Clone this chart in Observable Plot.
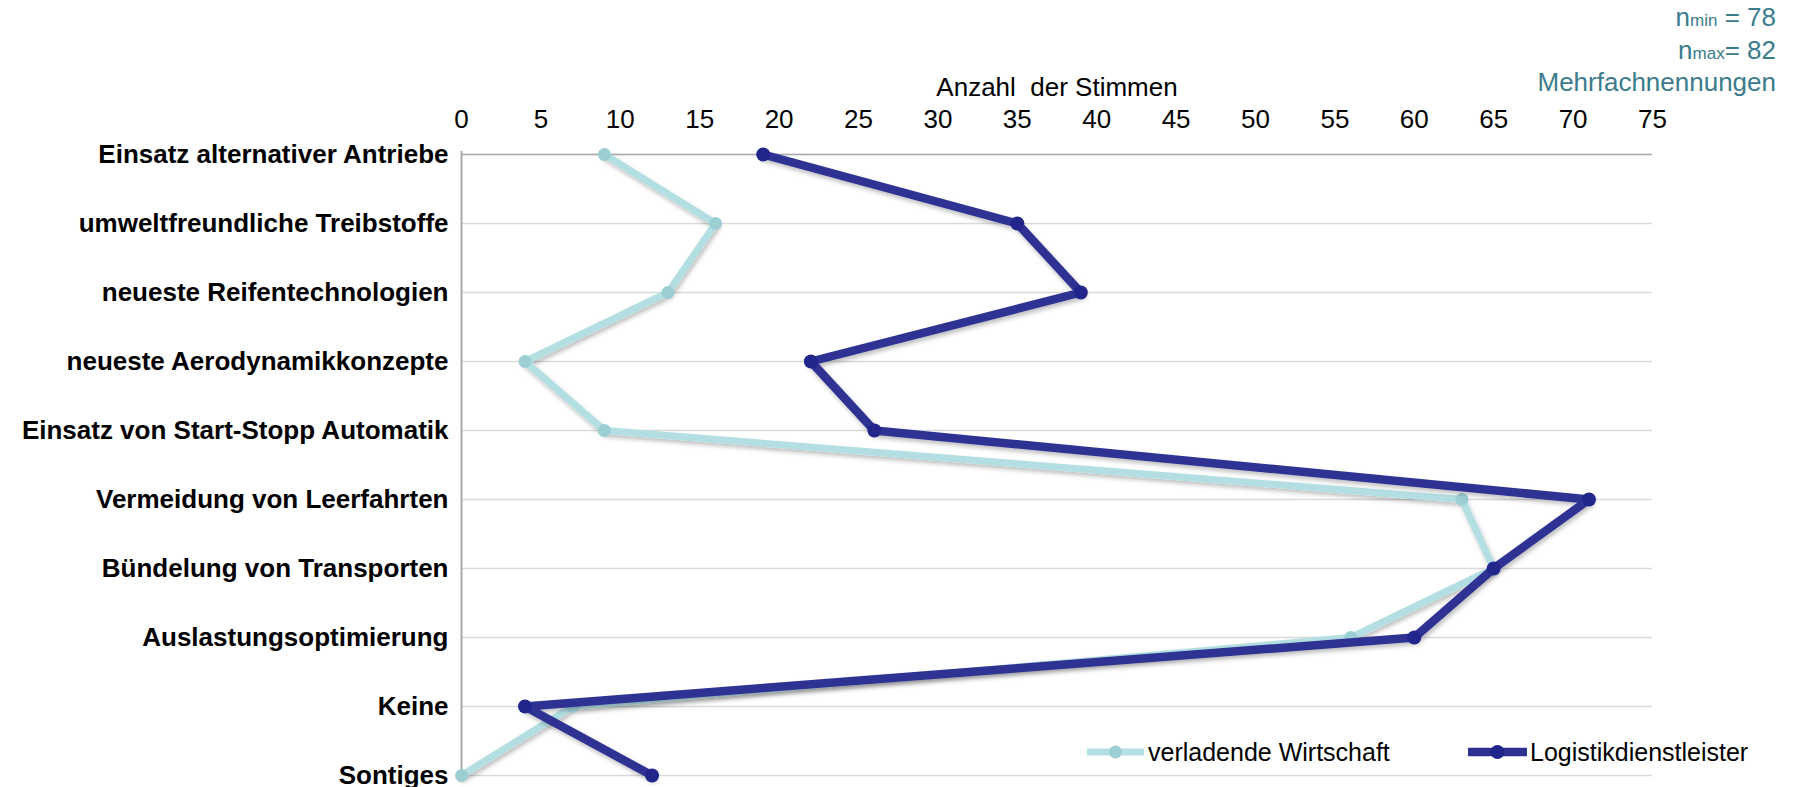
<!DOCTYPE html>
<html>
<head>
<meta charset="utf-8">
<script src="https://cdn.jsdelivr.net/npm/d3@7"></script>
<script src="https://cdn.jsdelivr.net/npm/@observablehq/plot@0.6"></script>
<style>
  body { margin: 0; background: #fff; }
  #chart { position: relative; width: 1794px; height: 787px; }
</style>
</head>
<body>
<div id="chart"></div>
<script>
// Maßnahmen (top to bottom)
const measures = [
  "Einsatz alternativer Antriebe",
  "umweltfreundliche Treibstoffe",
  "neueste Reifentechnologien",
  "neueste Aerodynamikkonzepte",
  "Einsatz von Start-Stopp Automatik",
  "Vermeidung von Leerfahrten",
  "Bündelung von Transporten",
  "Auslastungsoptimierung",
  "Keine",
  "Sontiges"
];

// Anzahl der Stimmen je Gruppe
const verladendeWirtschaft = [9, 16, 13, 4, 9, 63, 65, 56, 7, 0];
const logistikdienstleister = [19, 35, 39, 22, 26, 71, 65, 60, 4, 12];

const seriesNames = ["verladende Wirtschaft", "Logistikdienstleister"];
const seriesColors = ["#b3dfe2", "#2e3192"];
const markerColors = ["#9ccfd4", "#22258c"];

const xTicks = [0, 5, 10, 15, 20, 25, 30, 35, 40, 45, 50, 55, 60, 65, 70, 75];
const axisTitle = "Anzahl  der Stimmen";

const rows = [
  ...measures.map((m, i) => ({measure: m, value: verladendeWirtschaft[i], series: seriesNames[0]})),
  ...measures.map((m, i) => ({measure: m, value: logistikdienstleister[i], series: seriesNames[1]}))
];
const bySeries = (s) => rows.filter((d) => d.series === s);

const FONT = "'Liberation Sans', Arial, Helvetica, sans-serif";

const chart = Plot.plot({
  width: 1794,
  height: 787,
  marginLeft: 461,
  marginRight: 142,
  marginTop: 151,
  marginBottom: 9,
  style: {fontFamily: FONT, background: "#fff", overflow: "visible"},
  x: {domain: [0, 75]},
  y: {type: "point", domain: measures, padding: 0},
  marks: [
    Plot.ruleY(measures, {stroke: "#dadada", strokeWidth: 1.5}),
    Plot.ruleY([measures[0]], {stroke: "#ababab", strokeWidth: 1.5}),
    Plot.ruleX([0], {stroke: "#a9a9a9", strokeWidth: 2}),
    Plot.axisX(xTicks, {
      anchor: "top", tickSize: 0, tickPadding: 24, fontSize: 26,
      fill: "#000", label: null
    }),
    Plot.text([axisTitle], {
      frameAnchor: "top", lineAnchor: "middle", dy: -64, fontSize: 26, fill: "#000"
    }),
    Plot.axisY({
      tickSize: 0, tickPadding: 13, fontSize: 26, fontWeight: "bold",
      fill: "#000", label: null
    }),
    Plot.line(bySeries(seriesNames[0]), {
      x: "value", y: "measure", stroke: seriesColors[0], strokeWidth: 7, strokeLinejoin: "round"
    }),
    Plot.dot(bySeries(seriesNames[0]), {
      x: "value", y: "measure", r: 6.5, fill: markerColors[0], stroke: "none"
    }),
    Plot.line(bySeries(seriesNames[1]), {
      x: "value", y: "measure", stroke: seriesColors[1], strokeWidth: 8.5, strokeLinejoin: "round"
    }),
    Plot.dot(bySeries(seriesNames[1]), {
      x: "value", y: "measure", r: 7, fill: markerColors[1], stroke: "none"
    })
  ]
});

document.getElementById("chart").appendChild(chart);

// soft shadow beneath the series lines
const svg = d3.select(chart);
const defs = svg.insert("defs", ":first-child");
defs.append("filter")
  .attr("id", "lineShadow")
  .attr("x", "-5%").attr("y", "-5%").attr("width", "110%").attr("height", "115%")
  .append("feDropShadow")
  .attr("dx", 1.5).attr("dy", 3).attr("stdDeviation", 2)
  .attr("flood-color", "#000").attr("flood-opacity", 0.25);
svg.selectAll("g[aria-label='line']").attr("filter", "url(#lineShadow)");

// sample size note, top right
const note = svg.append("g")
  .attr("font-family", FONT)
  .attr("fill", "#3b7b8c")
  .attr("text-anchor", "end");
const n1 = note.append("text").attr("x", 1776).attr("y", 26).attr("font-size", 26);
n1.append("tspan").text("n");
n1.append("tspan").attr("font-size", 17).text("min");
n1.append("tspan").text(" = 78");
const n2 = note.append("text").attr("x", 1776).attr("y", 59).attr("font-size", 26);
n2.append("tspan").text("n");
n2.append("tspan").attr("font-size", 17).text("max");
n2.append("tspan").text("= 82");
note.append("text").attr("x", 1776).attr("y", 91).attr("font-size", 26).text("Mehrfachnennungen");

// legend, bottom right
const legendItems = [
  {x0: 1087, x1: 1144, tx: 1148, name: seriesNames[0], color: seriesColors[0], marker: markerColors[0], w: 7, r: 6.5},
  {x0: 1468, x1: 1527, tx: 1530, name: seriesNames[1], color: seriesColors[1], marker: markerColors[1], w: 8.5, r: 7}
];
const legend = svg.append("g").attr("font-family", FONT).attr("text-anchor", "start");
const ly = 752;
for (const it of legendItems) {
  legend.append("line")
    .attr("x1", it.x0).attr("x2", it.x1).attr("y1", ly).attr("y2", ly)
    .attr("stroke", it.color).attr("stroke-width", it.w);
  legend.append("circle")
    .attr("cx", (it.x0 + it.x1) / 2).attr("cy", ly).attr("r", it.r)
    .attr("fill", it.marker);
  legend.append("text")
    .attr("x", it.tx).attr("y", ly).attr("dy", "0.36em")
    .attr("font-size", 25).attr("fill", "#000")
    .text(it.name);
}
</script>
</body>
</html>
